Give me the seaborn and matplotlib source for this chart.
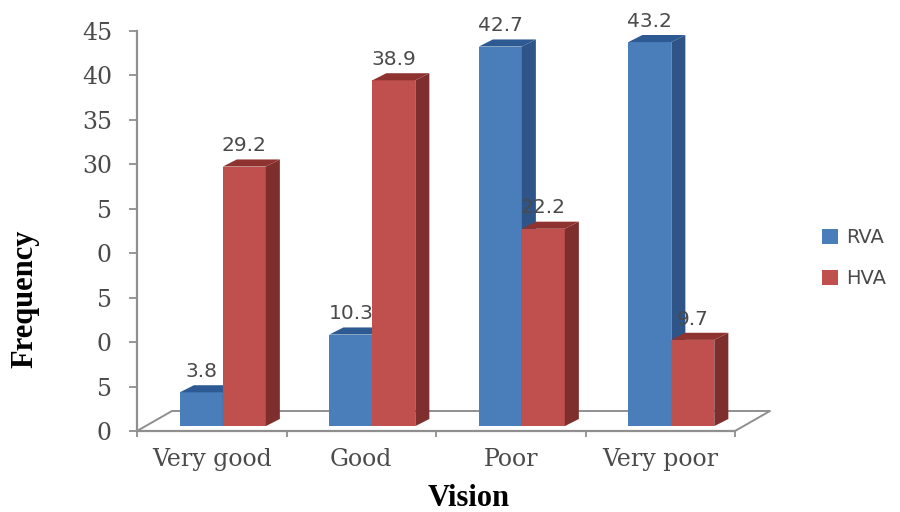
import matplotlib
matplotlib.use("Agg")
import matplotlib.pyplot as plt
from matplotlib.patches import Polygon
import pandas as pd
import seaborn as sns

categories = ["Very good", "Good", "Poor", "Very poor"]
rva_values = [3.8, 10.3, 42.7, 43.2]
hva_values = [29.2, 38.9, 22.2, 9.7]
series_names = ["RVA", "HVA"]
y_tick_values = [0, 5, 10, 15, 20, 25, 30, 35, 40, 45]
y_tick_labels = ["0", "5", "0", "5", "0", "5", "30", "35", "40", "45"]

FRONT = {"RVA": "#4a7ebb", "HVA": "#c0504d"}
SIDE = {"RVA": "#2f5487", "HVA": "#7e2e2d"}
TOP = {"RVA": "#2d5a92", "HVA": "#8e3330"}
AXIS_GREY = "#8f8f8f"
TEXT_GREY = "#4a4a4a"

sns.set_theme(style="white")

frame = pd.DataFrame({
    "Vision": categories * 2,
    "Frequency": rva_values + hva_values,
    "Series": ["RVA"] * len(categories) + ["HVA"] * len(categories),
})

fig = plt.figure(figsize=(9, 5.12), dpi=100, facecolor="white")
ax = fig.add_axes([137 / 900, 1 - 431 / 512, 598 / 900, 400 / 512])

sns.barplot(
    data=frame, x="Vision", y="Frequency", hue="Series",
    order=categories, hue_order=series_names, palette=FRONT,
    width=0.575, gap=0, dodge=True, saturation=1, linewidth=0,
    errorbar=None, ax=ax,
)
ax.set_xlim(-0.5, 3.5)
ax.set_ylim(0, 45)

# Fake depth: the bars stand on a raised floor and get a side and a top face.
base = 0.55
shift = 0.074
depth_x = 0.094
depth_y = 0.8

for name, container, layer in zip(series_names, ax.containers, (3, 4)):
    for bar in container.patches:
        value = bar.get_height()
        bar.set_x(bar.get_x() + shift)
        bar.set_y(base)
        bar.set_zorder(layer)
        left = bar.get_x()
        right = left + bar.get_width()
        top = base + value
        ax.add_patch(Polygon(
            [(right, base), (right + depth_x, base + depth_y),
             (right + depth_x, top + depth_y), (right, top)],
            closed=True, facecolor=SIDE[name], edgecolor="none", zorder=layer,
        ))
        ax.add_patch(Polygon(
            [(left, top), (left + depth_x, top + depth_y),
             (right + depth_x, top + depth_y), (right, top)],
            closed=True, facecolor=TOP[name], edgecolor="none", zorder=layer,
        ))
        ax.annotate(
            f"{value:.1f}", (left + bar.get_width() / 2, top),
            xytext=(0, 15), textcoords="offset points", ha="center", va="center",
            fontsize=14.5, family="DejaVu Sans", color=TEXT_GREY, zorder=6,
        )

# Floor outline running back from the axis corners.
floor_x = 0.234
floor_y = 2.25
ax.plot(
    [-0.5, -0.5 + floor_x, 3.5 + floor_x, 3.5],
    [0, floor_y, floor_y, 0],
    color=AXIS_GREY, lw=1.4, clip_on=False, zorder=1,
)

sns.despine(ax=ax)
for side in ("left", "bottom"):
    ax.spines[side].set_color(AXIS_GREY)
    ax.spines[side].set_linewidth(1.6)

ax.set_yticks(y_tick_values)
ax.set_yticklabels(y_tick_labels, family="DejaVu Serif", fontsize=17, color=TEXT_GREY)
ax.tick_params(axis="y", left=True, length=6, width=1.3, color=AXIS_GREY, pad=12)

# Ticks fall between the groups, labels sit under the group centres.
ax.set_xticks([-0.5, 0.5, 1.5, 2.5, 3.5])
ax.set_xticklabels([])
ax.set_xticks([0, 1, 2, 3], minor=True)
ax.set_xticklabels(categories, minor=True, family="DejaVu Serif", fontsize=17, color=TEXT_GREY)
ax.tick_params(axis="x", which="major", bottom=True, length=4, width=1.3, color=AXIS_GREY)
ax.tick_params(axis="x", which="minor", bottom=False, length=0, pad=12)

ax.set_xlabel("Vision", family="Liberation Serif", fontweight="bold", fontsize=22, color="black", va="center")
ax.xaxis.set_label_coords(0.555, -0.1675)
ax.set_ylabel("Frequency", family="Liberation Serif", fontweight="bold", fontsize=22, color="black", va="center")
ax.yaxis.set_label_coords(-0.187, 0.33)

handles, labels = ax.get_legend_handles_labels()
ax.legend(
    handles, labels, loc="center left",
    bbox_to_anchor=(822 / 900, 1 - 258 / 512), bbox_transform=fig.transFigure,
    frameon=False, labelspacing=1.15, borderpad=0, borderaxespad=0,
    handlelength=0.8, handleheight=0.8, handletextpad=0.45,
    labelcolor=TEXT_GREY, prop={"family": "DejaVu Sans", "size": 14},
)

fig.savefig("out.png", dpi=100)
